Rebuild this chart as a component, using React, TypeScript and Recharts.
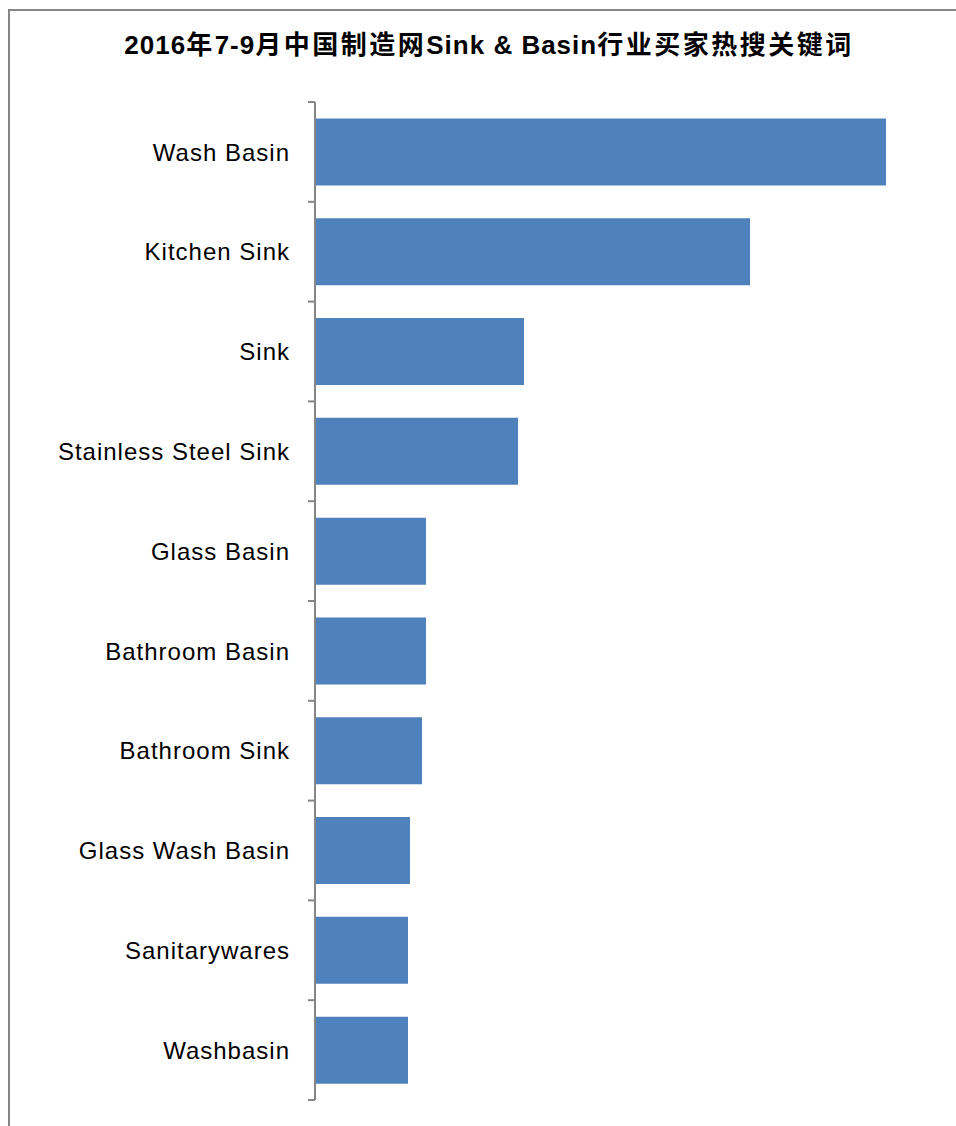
import React from 'react';
import { BarChart, Bar, XAxis, YAxis } from 'recharts';

// keywords, top to bottom
const keywords = [
  'Wash Basin',
  'Kitchen Sink',
  'Sink',
  'Stainless Steel Sink',
  'Glass Basin',
  'Bathroom Basin',
  'Bathroom Sink',
  'Glass Wash Basin',
  'Sanitarywares',
  'Washbasin',
];

// search heat (no value axis shown in the original)
const searchHeat = [571, 435, 209, 203, 111, 111, 107, 95, 93, 93];

const titleParts = ['2016', '年', '7-9', '月中国制造网', 'Sink & Basin', '行业买家热搜关键词'];

const FONT = '"Liberation Sans", Arial, "Noto Sans CJK SC", sans-serif';
const AXIS_GREY = '#868686';
const BAR_BLUE = '#4F81BD';

const PLOT_TOP = 91;
const PLOT_HEIGHT = 998;
const PLOT_WIDTH = 600;
const AXIS_WIDTH = 305;
const TICK_LEN = 7;
const LABEL_GAP = 25;

const data = keywords.map((name, i) => ({ name, value: searchHeat[i] }));

const isCjk = (s: string) => /[\u4e00-\u9fff]/.test(s);

const KeywordTick = (props: any) => {
  const { x, y, payload, index } = props;
  const band = PLOT_HEIGHT / keywords.length;
  const axisX = x + LABEL_GAP;
  return (
    <g>
      <line x1={axisX - TICK_LEN} x2={axisX} y1={y - band / 2} y2={y - band / 2} stroke={AXIS_GREY} strokeWidth={2} />
      {index === keywords.length - 1 && (
        <line x1={axisX - TICK_LEN} x2={axisX} y1={y + band / 2} y2={y + band / 2} stroke={AXIS_GREY} strokeWidth={2} />
      )}
      <text
        x={x}
        y={y}
        dy="0.36em"
        textAnchor="end"
        fill="#000"
        style={{ fontFamily: FONT, fontSize: 24, letterSpacing: 1 }}
      >
        {payload.value}
      </text>
    </g>
  );
};

export default function App() {
  return (
    <div
      style={{
        position: 'fixed',
        left: 8,
        top: 9,
        width: 948,
        height: 1117,
        borderTop: `2px solid ${AXIS_GREY}`,
        borderLeft: `2px solid ${AXIS_GREY}`,
        boxSizing: 'border-box',
        background: '#fff',
      }}
    >
      <svg width={946} height={80} style={{ position: 'absolute', left: 0, top: 0 }}>
        <text x={479} y={43} textAnchor="middle" fill="#000" style={{ fontFamily: FONT, fontSize: 26, fontWeight: 'bold' }}>
          {titleParts.map((p, i) => (
            <tspan key={i} style={{ letterSpacing: isCjk(p) ? 2.5 : 1 }}>
              {p}
            </tspan>
          ))}
        </text>
      </svg>
      <div style={{ position: 'absolute', left: 0, top: 0 }}>
        <BarChart
          width={AXIS_WIDTH + PLOT_WIDTH + 30}
          height={PLOT_TOP + PLOT_HEIGHT + 10}
          data={data}
          layout="vertical"
          margin={{ top: PLOT_TOP, right: 30, left: 0, bottom: 10 }}
          barCategoryGap="16.5%"
        >
          <XAxis type="number" domain={[0, 600]} hide />
          <YAxis
            type="category"
            dataKey="name"
            width={AXIS_WIDTH}
            axisLine={{ stroke: AXIS_GREY, strokeWidth: 2 }}
            tickLine={false}
            tickSize={0}
            tickMargin={LABEL_GAP}
            interval={0}
            tick={<KeywordTick />}
          />
          <Bar dataKey="value" fill={BAR_BLUE} isAnimationActive={false} />
        </BarChart>
      </div>
    </div>
  );
}
